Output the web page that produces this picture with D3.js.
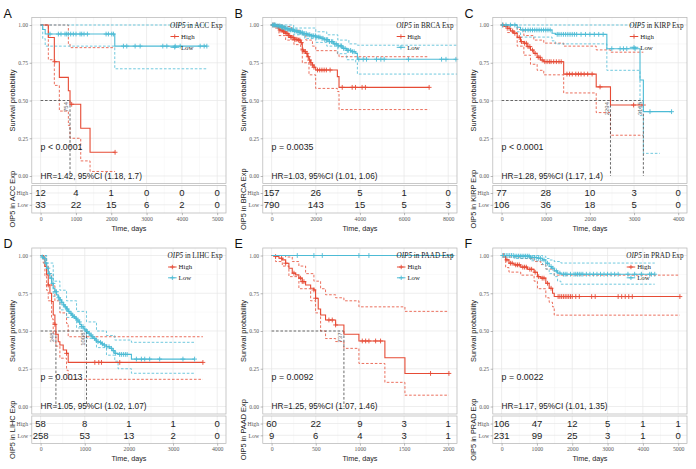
<!DOCTYPE html>
<html>
<head>
<meta charset="utf-8">
<script src="https://cdn.jsdelivr.net/npm/d3@7"></script>
<style>
  body { margin: 0; background: #fff; }
  text { font-family: "Liberation Sans", Arial, sans-serif; }
  .serif { font-family: "Liberation Serif", "Times New Roman", serif; }
</style>
</head>
<body>
<svg id="chart" width="696" height="469"></svg>
<script>
// ---- ACC ----
const accTimes = [0, 1000, 2000, 3000, 4000, 5000];
const accRiskHigh = [12, 4, 1, 0, 0, 0];
const accRiskLow = [33, 22, 15, 6, 2, 0];
const accHigh = [[0,1],[219,0.917],[389,0.757],[531,0.653],[786,0.565],[833,0.475],[1136,0.316],[1400,0.157],[2109,0.157]];
const accHighUp = [[0,1],[786,0.875],[833,0.85],[2109,0.85]];
const accHighLo = [[0,1],[219,0.77],[389,0.6],[531,0.43],[786,0.335],[833,0.25],[1136,0.1],[1400,0.03],[2109,0.03]];
const accHighCens = [400, 880, 2109];
const accLow = [[0,1],[60,0.97],[130,0.94],[2100,0.86],[4707,0.86]];
const accLowUp = [[0,1],[4707,1]];
const accLowLo = [[0,1],[60,0.91],[130,0.86],[2100,0.71],[4707,0.71]];
const accLowCens = [266,503,578,691,739,785,852,927,1003,1117,1164,1230,1325,1854,1920,2014,2062,2345,2440,2676,2818,3460,3574,3810,3952,4518,4631,4707];
const accMed = [833];
const accMedLab = ["754"];

// ---- BRCA ----
const brcaTimes = [0, 2000, 4000, 6000, 8000];
const brcaRiskHigh = [157, 26, 5, 1, 0];
const brcaRiskLow = [790, 143, 15, 5, 3];
const brcaHigh = [[0,1],[150,0.99],[333,0.967],[500,0.955],[635,0.945],[750,0.93],[862,0.918],[1013,0.905],[1164,0.9],[1316,0.883],[1391,0.834],[1450,0.825],[1542,0.812],[1620,0.79],[1694,0.768],[1770,0.75],[1845,0.735],[1920,0.72],[1996,0.702],[2979,0.658],[3054,0.587],[7137,0.587]];
const brcaHighUp = [[0,1],[500,0.99],[900,0.965],[1300,0.94],[1550,0.9],[1850,0.86],[2000,0.83],[2979,0.81],[3054,0.79],[7137,0.79]];
const brcaHighLo = [[0,1],[333,0.93],[635,0.9],[1013,0.87],[1316,0.84],[1391,0.75],[1694,0.67],[1996,0.58],[2979,0.56],[3054,0.44],[7137,0.44]];
const brcaHighCens = [60,120,200,260,330,380,430,480,540,600,650,700,760,820,870,920,980,1040,1100,1150,1220,1280,1350,1420,1470,1530,1600,1660,1720,1780,1850,1920,2080,2180,2280,2380,2480,2650,3200,3650,3800,4100,4250,7137];
const brcaLow = [[0,1],[200,0.993],[400,0.985],[600,0.975],[800,0.968],[1000,0.96],[1200,0.952],[1400,0.943],[1600,0.935],[1800,0.928],[2000,0.92],[2200,0.912],[2400,0.903],[2600,0.89],[2800,0.875],[3000,0.862],[3200,0.845],[3400,0.832],[3600,0.823],[3810,0.812],[3886,0.773],[8400,0.773]];
const brcaLowUp = [[0,1],[1000,0.98],[2000,0.955],[2500,0.935],[3000,0.9],[3500,0.875],[3886,0.866],[8400,0.866]];
const brcaLowLo = [[0,1],[500,0.96],[1000,0.935],[1500,0.91],[2000,0.885],[2500,0.86],[3000,0.81],[3400,0.77],[3810,0.75],[3886,0.675],[8400,0.675]];
const brcaLowCens = [40,95,130,185,250,290,345,380,445,490,530,595,640,700,735,790,850,880,945,990,1040,1110,1150,1200,1270,1310,1385,1430,1500,1570,1610,1690,1730,1800,1870,1910,1990,2050,2130,2190,2280,2330,2410,2490,2540,2620,2710,2770,2860,2930,3020,3110,3170,3260,3330,3430,3490,3580,3670,3740,3950,4150,4300,4750,4950,5100,6200,7700,7900,8350];
const brcaMed = [];
const brcaMedLab = [];

// ---- KIRP ----
const kirpTimes = [0, 1000, 2000, 3000, 4000];
const kirpRiskHigh = [77, 28, 10, 3, 0];
const kirpRiskLow = [106, 36, 18, 5, 0];
const kirpHigh = [[0,1],[60,0.99],[128,0.978],[203,0.96],[278,0.945],[353,0.918],[429,0.89],[504,0.879],[579,0.857],[654,0.834],[729,0.812],[805,0.786],[880,0.768],[955,0.757],[1406,0.675],[2143,0.59],[2466,0.47],[3211,0.47]];
const kirpHighUp = [[0,1],[353,0.97],[504,0.93],[729,0.9],[955,0.88],[1406,0.86],[2143,0.835],[2466,0.82],[3211,0.82]];
const kirpHighLo = [[0,1],[128,0.95],[353,0.86],[504,0.8],[654,0.74],[805,0.7],[955,0.67],[1406,0.55],[2143,0.42],[2466,0.27],[3211,0.27]];
const kirpHighCens = [30,100,170,250,300,400,450,520,560,600,640,700,760,830,870,920,980,1030,1080,1120,1180,1240,1300,1350,1480,1540,1600,1680,1740,1800,1870,1950,2050,2230,2990,3211];
const kirpLow = [[0,1],[353,0.985],[429,0.967],[1143,0.945],[1218,0.938],[2384,0.843],[3135,0.636],[3211,0.426],[3850,0.426]];
const kirpLowUp = [[0,1],[3211,1]];
const kirpLowLo = [[0,1],[353,0.955],[429,0.92],[1143,0.895],[1218,0.875],[2384,0.7],[3135,0.4],[3211,0.15],[3587,0.15]];
const kirpLowCens = [20,100,200,300,480,540,600,650,700,750,800,850,900,950,1000,1050,1100,1260,1300,1350,1400,1450,1500,1550,1600,1650,1700,1800,1900,2000,2100,2200,2300,2496,2684,2760,2835,3023,3361,3850];
const kirpMed = [2466, 3211];
const kirpMedLab = ["2294", "3165"];

// ---- LIHC ----
const lihcTimes = [0, 1000, 2000, 3000, 4000];
const lihcRiskHigh = [58, 8, 1, 1, 0];
const lihcRiskLow = [258, 53, 13, 2, 0];
const lihcHigh = [[0,1],[60,0.982],[98,0.927],[136,0.872],[173,0.805],[211,0.75],[249,0.695],[286,0.606],[324,0.544],[347,0.478],[399,0.429],[437,0.407],[512,0.374],[588,0.352],[625,0.292],[3676,0.292]];
const lihcHighUp = [[0,1],[98,0.98],[136,0.93],[173,0.88],[249,0.8],[324,0.7],[437,0.62],[588,0.55],[625,0.462],[3676,0.462]];
const lihcHighLo = [[0,1],[60,0.95],[98,0.86],[136,0.77],[173,0.7],[249,0.58],[286,0.48],[347,0.4],[437,0.32],[588,0.24],[625,0.18],[3676,0.18]];
const lihcHighCens = [173, 324, 588, 1228, 1318, 1379, 1793, 3676];
const lihcLow = [[0,1],[30,0.99],[60,0.982],[100,0.95],[136,0.916],[175,0.88],[211,0.85],[250,0.815],[286,0.783],[324,0.76],[362,0.739],[400,0.72],[437,0.706],[475,0.69],[512,0.673],[550,0.66],[588,0.646],[625,0.63],[663,0.617],[700,0.605],[738,0.595],[776,0.584],[814,0.573],[850,0.56],[889,0.544],[925,0.53],[964,0.518],[1000,0.507],[1040,0.496],[1080,0.485],[1115,0.473],[1150,0.462],[1190,0.451],[1230,0.44],[1266,0.429],[1341,0.425],[1380,0.415],[1416,0.407],[1492,0.396],[1567,0.385],[1620,0.37],[1680,0.352],[1755,0.345],[2057,0.314],[3488,0.314]];
const lihcLowUp = [[0,1],[136,0.95],[286,0.83],[437,0.77],[588,0.7],[814,0.63],[1040,0.56],[1266,0.5],[1492,0.47],[1680,0.44],[2057,0.425],[3488,0.425]];
const lihcLowLo = [[0,1],[136,0.88],[286,0.73],[437,0.64],[588,0.59],[814,0.52],[1040,0.45],[1266,0.39],[1492,0.34],[1680,0.3],[1755,0.25],[2057,0.22],[3488,0.22]];
const lihcLowCens = [40,85,120,165,200,245,280,330,360,410,440,480,525,560,605,640,690,720,765,800,845,880,925,960,1005,1060,1100,1145,1180,1225,1260,1300,1355,1400,1445,1500,1550,1605,1650,1700,1790,1830,1875,1920,1960,2170,2283,2358,2471,2697,3224,3488];
const lihcMed = [347, 1040];
const lihcMedLab = ["348", "1008"];

// ---- PAAD ----
const paadTimes = [0, 500, 1000, 1500, 2000];
const paadRiskHigh = [60, 22, 9, 3, 1];
const paadRiskLow = [9, 6, 4, 3, 1];
const paadHigh = [[0,1],[45,0.993],[83,0.982],[121,0.971],[159,0.949],[196,0.916],[234,0.883],[272,0.872],[309,0.85],[347,0.827],[385,0.805],[442,0.783],[479,0.772],[498,0.717],[528,0.646],[555,0.606],[611,0.573],[725,0.54],[819,0.478],[989,0.434],[1283,0.323],[1510,0.219],[2008,0.219]];
const paadHighUp = [[0,1],[159,0.99],[234,0.96],[309,0.93],[385,0.88],[479,0.83],[555,0.78],[611,0.74],[725,0.72],[819,0.7],[989,0.66],[1510,0.63],[2008,0.63]];
const paadHighLo = [[0,1],[45,0.96],[121,0.93],[196,0.86],[309,0.78],[442,0.7],[498,0.62],[555,0.5],[611,0.45],[725,0.43],[819,0.385],[989,0.285],[1283,0.16],[1510,0.075],[2008,0.075]];
const paadHighCens = [45,113,159,253,328,347,366,479,498,649,687,725,1027,1065,1102,1178,1234,1800,2008];
const paadLow = [[0,1],[2045,1]];
const paadLowUp = [];
const paadLowLo = [];
const paadLowCens = [291, 479, 574, 989, 1102, 2045];
const paadMed = [819];
const paadMedLab = ["737"];

// ---- PRAD ----
const pradTimes = [0, 1000, 2000, 3000, 4000, 5000];
const pradRiskHigh = [106, 47, 12, 5, 1, 1];
const pradRiskLow = [231, 99, 25, 3, 1, 0];
const pradHigh = [[0,1],[114,0.971],[209,0.949],[351,0.938],[541,0.923],[731,0.909],[920,0.889],[1015,0.86],[1110,0.85],[1252,0.816],[1347,0.783],[1442,0.75],[1490,0.728],[5048,0.728]];
const pradHighUp = [[0,1],[209,0.99],[541,0.98],[920,0.96],[1110,0.94],[1252,0.91],[1490,0.87],[5048,0.87]];
const pradHighLo = [[0,1],[114,0.92],[209,0.89],[541,0.87],[920,0.83],[1015,0.78],[1252,0.72],[1347,0.69],[1442,0.66],[1490,0.605],[5048,0.605]];
const pradHighCens = [60,150,250,300,400,450,500,600,650,700,800,850,950,1050,1150,1200,1300,1400,1600,1650,1700,1750,1800,1850,1900,1950,2000,2100,2200,2550,2650,3300,3400,3500,3600,3700,5048];
const pradLow = [[0,1],[351,0.996],[825,0.987],[1015,0.982],[1158,0.971],[1252,0.949],[1347,0.927],[1414,0.916],[1490,0.898],[1584,0.883],[1679,0.876],[4336,0.876]];
const pradLowUp = [[0,1],[1158,0.995],[1252,0.98],[1347,0.97],[1490,0.96],[1679,0.95],[4336,0.95]];
const pradLowLo = [[0,1],[351,0.98],[825,0.965],[1158,0.94],[1252,0.91],[1347,0.88],[1490,0.86],[1584,0.83],[1679,0.81],[4336,0.81]];
const pradLowCens = [30,80,130,180,230,280,330,380,430,480,530,580,630,680,730,780,830,880,930,980,1050,1100,1200,1300,1400,1450,1550,1650,1750,1800,1850,1950,2050,2100,2150,2200,2250,2300,2400,2500,2600,2700,2800,2900,3000,3100,3200,3300,3577,3767,3957,4194,4241,4336];
const pradMed = [];
const pradMedLab = [];

const tags = ["A", "B", "C", "D", "E", "F"];
const cancers = ["ACC", "BRCA", "KIRP", "LIHC", "PAAD", "PRAD"];
const pTexts = ["p < 0.0001", "p = 0.0035", "p < 0.0001", "p = 0.0013", "p = 0.0092", "p = 0.0022"];
const hrTexts = ["HR=1.42, 95%CI (1.18, 1.7)", "HR=1.03, 95%CI (1.01, 1.06)", "HR=1.28, 95%CI (1.17, 1.4)",
                 "HR=1.05, 95%CI (1.02, 1.07)", "HR=1.25, 95%CI (1.07, 1.46)", "HR=1.17, 95%CI (1.01, 1.35)"];
const groups = ["High", "Low"];

const red = "#E64B35";
const blue = "#4DBBD5";

const panels = [
  {times: accTimes, risk: [accRiskHigh, accRiskLow], curves: [accHigh, accLow], up: [accHighUp, accLowUp], lo: [accHighLo, accLowLo], cens: [accHighCens, accLowCens], med: accMed, medLab: accMedLab},
  {times: brcaTimes, risk: [brcaRiskHigh, brcaRiskLow], curves: [brcaHigh, brcaLow], up: [brcaHighUp, brcaLowUp], lo: [brcaHighLo, brcaLowLo], cens: [brcaHighCens, brcaLowCens], med: brcaMed, medLab: brcaMedLab},
  {times: kirpTimes, risk: [kirpRiskHigh, kirpRiskLow], curves: [kirpHigh, kirpLow], up: [kirpHighUp, kirpLowUp], lo: [kirpHighLo, kirpLowLo], cens: [kirpHighCens, kirpLowCens], med: kirpMed, medLab: kirpMedLab},
  {times: lihcTimes, risk: [lihcRiskHigh, lihcRiskLow], curves: [lihcHigh, lihcLow], up: [lihcHighUp, lihcLowUp], lo: [lihcHighLo, lihcLowLo], cens: [lihcHighCens, lihcLowCens], med: lihcMed, medLab: lihcMedLab},
  {times: paadTimes, risk: [paadRiskHigh, paadRiskLow], curves: [paadHigh, paadLow], up: [paadHighUp, paadLowUp], lo: [paadHighLo, paadLowLo], cens: [paadHighCens, paadLowCens], med: paadMed, medLab: paadMedLab},
  {times: pradTimes, risk: [pradRiskHigh, pradRiskLow], curves: [pradHigh, pradLow], up: [pradHighUp, pradLowUp], lo: [pradHighLo, pradLowLo], cens: [pradHighCens, pradLowCens], med: pradMed, medLab: pradMedLab}
];

const svg = d3.select("#chart");
const colX = [0, 231, 461];
const rowY = [0, 230.5];
const box = {left: 31.8, right: 226, top: 17.5, bottom: 183.5};
const tbl = {top: 185.5, bottom: 213};
const colors = [red, blue];

// survival value at time t from a step list
const survAt = (steps, t) => {
  let s = 1;
  for (const [tt, v] of steps) { if (tt <= t) s = v; }
  return s;
};

const cross = (sel, cx, cy, col, r) => {
  sel.append("path")
    .attr("d", `M${cx - r},${cy}H${cx + r}M${cx},${cy - r}V${cy + r}`)
    .attr("stroke", col).attr("stroke-width", 0.9).attr("fill", "none");
};

panels.forEach((p, i) => {
  const g = svg.append("g").attr("transform", `translate(${colX[i % 3]},${rowY[Math.floor(i / 3)]})`);
  const xMax = d3.max(p.times);
  const x = d3.scaleLinear().domain([0, xMax]).range([40.6, 217.2]);
  const y = d3.scaleLinear().domain([0, 1]).range([176, 25]);
  const rowScale = d3.scalePoint().domain(groups).range([193, 204.8]);
  const step = p.times[1] - p.times[0];
  const minorX = p.times.slice(1).map(t => t - step / 2);

  // plot grid
  const grid = g.append("g");
  grid.selectAll(".mx").data(minorX).join("line")
    .attr("x1", d => x(d)).attr("x2", d => x(d)).attr("y1", box.top).attr("y2", box.bottom)
    .attr("stroke", "#f3f3f3").attr("stroke-width", 0.5);
  grid.selectAll(".my").data([0.125, 0.375, 0.625, 0.875]).join("line")
    .attr("y1", d => y(d)).attr("y2", d => y(d)).attr("x1", box.left).attr("x2", box.right)
    .attr("stroke", "#f3f3f3").attr("stroke-width", 0.5);
  grid.selectAll(".Mx").data(p.times).join("line")
    .attr("x1", d => x(d)).attr("x2", d => x(d)).attr("y1", box.top).attr("y2", box.bottom)
    .attr("stroke", "#e6e6e6").attr("stroke-width", 0.7);
  grid.selectAll(".My").data([0, 0.25, 0.5, 0.75, 1]).join("line")
    .attr("y1", d => y(d)).attr("y2", d => y(d)).attr("x1", box.left).attr("x2", box.right)
    .attr("stroke", "#e6e6e6").attr("stroke-width", 0.7);

  // table grid
  grid.selectAll(".tmx").data(minorX).join("line")
    .attr("x1", d => x(d)).attr("x2", d => x(d)).attr("y1", tbl.top).attr("y2", tbl.bottom)
    .attr("stroke", "#f3f3f3").attr("stroke-width", 0.5);
  grid.selectAll(".tMx").data(p.times).join("line")
    .attr("x1", d => x(d)).attr("x2", d => x(d)).attr("y1", tbl.top).attr("y2", tbl.bottom)
    .attr("stroke", "#e6e6e6").attr("stroke-width", 0.7);
  grid.selectAll(".tMy").data(groups).join("line")
    .attr("y1", d => rowScale(d)).attr("y2", d => rowScale(d)).attr("x1", box.left).attr("x2", box.right)
    .attr("stroke", "#e6e6e6").attr("stroke-width", 0.7);

  const line = d3.line().curve(d3.curveStepAfter).x(d => x(d[0])).y(d => y(d[1]));

  // confidence bands
  [0, 1].forEach(k => {
    [p.up[k], p.lo[k]].forEach(arr => {
      if (!arr.length) return;
      g.append("path").attr("d", line(arr)).attr("fill", "none")
        .attr("stroke", colors[k]).attr("stroke-width", 0.8).attr("stroke-dasharray", "2.6,1.8");
    });
  });

  // median lines
  if (p.med.length) {
    g.append("line").attr("x1", x(0)).attr("x2", x(d3.max(p.med))).attr("y1", y(0.5)).attr("y2", y(0.5))
      .attr("stroke", "#444").attr("stroke-width", 0.8).attr("stroke-dasharray", "2.6,1.8");
    p.med.forEach((m, j) => {
      g.append("line").attr("x1", x(m)).attr("x2", x(m)).attr("y1", y(0.5)).attr("y2", y(0))
        .attr("stroke", "#444").attr("stroke-width", 0.8).attr("stroke-dasharray", "2.6,1.8");
      g.append("text").attr("transform", `translate(${x(m) - 1.8},${y(0.5) + 1.5}) rotate(-90)`)
        .attr("text-anchor", "end").attr("font-size", 6).attr("fill", "#666").text(p.medLab[j]);
    });
  }

  // survival curves + censor marks
  [0, 1].forEach(k => {
    g.append("path").attr("d", line(p.curves[k])).attr("fill", "none")
      .attr("stroke", colors[k]).attr("stroke-width", 1.1);
    const cg = g.append("g");
    p.cens[k].forEach(t => cross(cg, x(t), y(survAt(p.curves[k], t)), colors[k], 2.4));
  });

  // border boxes
  g.append("rect").attr("x", box.left).attr("y", box.top).attr("width", box.right - box.left)
    .attr("height", box.bottom - box.top).attr("fill", "none").attr("stroke", "#b3b3b3").attr("stroke-width", 0.7);
  g.append("rect").attr("x", box.left).attr("y", tbl.top).attr("width", box.right - box.left)
    .attr("height", tbl.bottom - tbl.top).attr("fill", "none").attr("stroke", "#b3b3b3").attr("stroke-width", 0.7);

  // y axis
  const yAx = g.append("g").attr("transform", `translate(${box.left},0)`)
    .call(d3.axisLeft(y).tickValues([0, 0.25, 0.5, 0.75, 1]).tickFormat(d3.format(".2f")).tickSize(2.2).tickPadding(1.5));
  yAx.select(".domain").remove();
  yAx.selectAll("line").attr("stroke", "#8a8a8a").attr("stroke-width", 0.6);
  yAx.selectAll("text").attr("class", "serif").attr("font-size", 5.6).attr("fill", "#5a5a5a");

  // table axes
  const rAx = g.append("g").attr("transform", `translate(${box.left},0)`)
    .call(d3.axisLeft(rowScale).tickSize(2.2).tickPadding(1.5));
  rAx.select(".domain").remove();
  rAx.selectAll("line").attr("stroke", "#8a8a8a").attr("stroke-width", 0.6);
  rAx.selectAll("text").attr("class", "serif").attr("font-size", 5.8).attr("fill", "#5a5a5a");

  const xAx = g.append("g").attr("transform", `translate(0,${tbl.bottom})`)
    .call(d3.axisBottom(x).tickValues(p.times).tickFormat(d3.format("d")).tickSize(2.2).tickPadding(1.2));
  xAx.select(".domain").remove();
  xAx.selectAll("line").attr("stroke", "#8a8a8a").attr("stroke-width", 0.6);
  xAx.selectAll("text").attr("class", "serif").attr("font-size", 5.8).attr("fill", "#5a5a5a");

  // risk numbers
  [0, 1].forEach(k => {
    g.selectAll(null).data(p.risk[k]).join("text")
      .attr("x", (d, j) => x(p.times[j])).attr("y", rowScale(groups[k]) + 3.4)
      .attr("text-anchor", "middle").attr("font-size", 9.5).attr("fill", "#222").text(d => d);
  });

  // axis titles
  g.append("text").attr("transform", `translate(14.5,${(box.top + box.bottom) / 2}) rotate(-90)`)
    .attr("text-anchor", "middle").attr("font-size", 7.4).attr("fill", "#222").text("Survival probability");
  g.append("text").attr("transform", `translate(14.5,${(tbl.top + tbl.bottom) / 2}) rotate(-90)`)
    .attr("text-anchor", "middle").attr("font-size", 7.4).attr("fill", "#222").text(`OIP5 in ${cancers[i]} Exp`);
  g.append("text").attr("x", (box.left + box.right) / 2).attr("y", 230.5)
    .attr("text-anchor", "middle").attr("font-size", 7.2).attr("fill", "#222").text("Time, days");

  // p value and HR
  g.append("text").attr("x", x(0)).attr("y", 149.8).attr("font-size", 8.8).attr("fill", "#222").text(pTexts[i]);
  g.append("text").attr("x", x(0)).attr("y", 178.6).attr("font-size", 8.2).attr("fill", "#222").text(hrTexts[i]);

  // legend
  const lg = g.append("g");
  const title = lg.append("text").attr("class", "serif").attr("y", 27.5).attr("font-size", 7.2).attr("fill", "#222");
  title.append("tspan").attr("font-style", "italic").text("OIP5");
  title.append("tspan").text(` in ${cancers[i]} Exp`);
  const tw = title.node().getComputedTextLength();
  const lx = 222.5 - tw;
  title.attr("x", lx);
  groups.forEach((gr, k) => {
    const ly = 36.5 + k * 10.8;
    lg.append("line").attr("x1", lx + 0.5).attr("x2", lx + 9).attr("y1", ly).attr("y2", ly)
      .attr("stroke", colors[k]).attr("stroke-width", 1);
    cross(lg, lx + 4.75, ly, colors[k], 2.2);
    lg.append("text").attr("class", "serif").attr("x", lx + 11).attr("y", ly + 2.2)
      .attr("font-size", 6.8).attr("fill", "#222").text(gr);
  });

  // panel tag
  g.append("text").attr("x", 3.5).attr("y", 17.5).attr("font-size", 12.5).attr("fill", "#111").text(tags[i]);
});
</script>
</body>
</html>
